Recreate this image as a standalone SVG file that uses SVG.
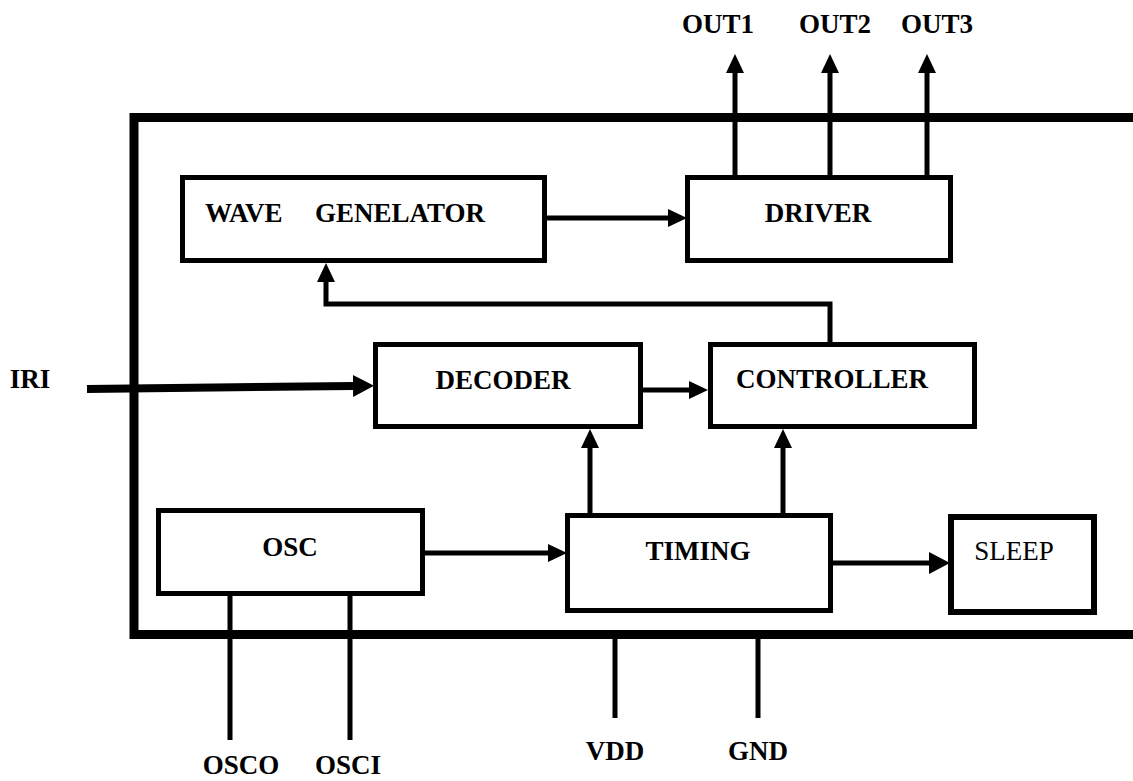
<svg xmlns="http://www.w3.org/2000/svg" width="1133" height="781" viewBox="0 0 1133 781">
<style>
.box{fill:#fff;stroke:#000;stroke-width:5}
.frame{fill:none;stroke:#000;stroke-width:9}
.w{fill:none;stroke:#000;stroke-width:5}
.t{font-family:"Liberation Serif","Times New Roman",serif;font-size:27px;font-weight:bold;fill:#000}
.r{font-family:"Liberation Serif","Times New Roman",serif;font-size:27px;fill:#000}
</style>
<defs>
<marker id="ah" markerUnits="userSpaceOnUse" markerWidth="20" markerHeight="20" refX="0" refY="9" orient="auto"><path d="M0,0 L19,9 L0,18 z" fill="#000"/></marker>
<marker id="ahb" markerUnits="userSpaceOnUse" markerWidth="24" markerHeight="24" refX="0" refY="11" orient="auto"><path d="M0,0 L21,11 L0,22 z" fill="#000"/></marker>
</defs>
<rect width="1133" height="781" fill="#fff"/>
<g id="frame"><path class="frame" d="M1140,117.5 H134 V634.5 H1140"/></g>
<g id="connectors">
<path class="w" d="M545,218 H668" marker-end="url(#ah)"/>
<path d="M87,389 L353,386" fill="none" stroke="#000" stroke-width="8" marker-end="url(#ahb)"/>
<path class="w" d="M641,390 H689" marker-end="url(#ah)"/>
<path class="w" d="M425,553 H548" marker-end="url(#ah)"/>
<path class="w" d="M832,563 H929" marker-end="url(#ahb)"/>
<path class="w" d="M590,513 V448" marker-end="url(#ah)"/>
<path class="w" d="M783,513 V448" marker-end="url(#ah)"/>
<path class="w" d="M830,342 V304 H326 V282" marker-end="url(#ah)"/>
<path class="w" d="M735,177 V73" marker-end="url(#ah)"/>
<path class="w" d="M830,177 V73" marker-end="url(#ah)"/>
<path class="w" d="M927,177 V73" marker-end="url(#ah)"/>
<path class="w" d="M230,595 V740"/>
<path class="w" d="M350,595 V740"/>
<path class="w" d="M615,634 V718"/>
<path class="w" d="M758,634 V718"/>
</g>
<g id="wave"><rect class="box" x="182.5" y="177.5" width="362" height="83"/><text class="t" x="205" y="222">WAVE<tspan x="315">GENELATOR</tspan></text></g>
<g id="driver"><rect class="box" x="687.5" y="177.5" width="263" height="83"/><text class="t" x="818" y="222" text-anchor="middle">DRIVER</text></g>
<g id="decoder"><rect class="box" x="375.5" y="344.5" width="265" height="82"/><text class="t" x="503" y="389" text-anchor="middle">DECODER</text></g>
<g id="controller"><rect class="box" x="710.5" y="344.5" width="264" height="82"/><text class="t" x="832" y="388" text-anchor="middle">CONTROLLER</text></g>
<g id="osc"><rect class="box" x="158.5" y="510.5" width="264" height="83"/><text class="t" x="290" y="556" text-anchor="middle">OSC</text></g>
<g id="timing"><rect class="box" x="567.5" y="515.5" width="263" height="95"/><text class="t" x="698" y="560" text-anchor="middle">TIMING</text></g>
<g id="sleep"><rect class="box" x="951" y="517" width="143" height="95" style="stroke-width:6"/><text class="r" x="1014" y="560" text-anchor="middle">SLEEP</text></g>
<g id="labels">
<text class="t" x="718" y="33" text-anchor="middle">OUT1</text>
<text class="t" x="835" y="33" text-anchor="middle">OUT2</text>
<text class="t" x="937" y="33" text-anchor="middle">OUT3</text>
<text class="t" x="30" y="388" text-anchor="middle">IRI</text>
<text class="t" x="241" y="774" text-anchor="middle">OSCO</text>
<text class="t" x="348" y="774" text-anchor="middle">OSCI</text>
<text class="t" x="615" y="760" text-anchor="middle">VDD</text>
<text class="t" x="758" y="760" text-anchor="middle">GND</text>
</g>
</svg>
